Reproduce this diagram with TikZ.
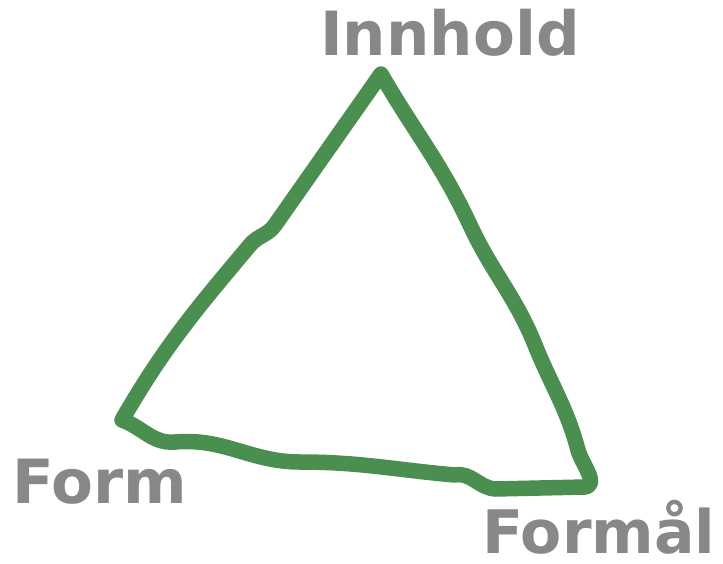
\documentclass[tikz,border=0pt]{standalone}
\usepackage{fontspec}
\setmainfont{DejaVu Sans}
\begin{document}
\begin{tikzpicture}[x=1pt,y=-1pt,
  lbl/.style={font=\fontsize{61}{61}\selectfont\bfseries, text=labelgray, inner sep=0pt, text depth=0pt, anchor=base west},
  stroke/.style={draw=trigreen, line width=15.5pt, line join=round, line cap=round}]
\definecolor{labelgray}{HTML}{888888}
\definecolor{trigreen}{HTML}{4A8F4F}
\useasboundingbox (0,0) rectangle (723,563);
\node[lbl] (innhold) at (320,55) {Innhold};
\node[lbl] (form) at (12,503) {Form};
\node[lbl, font=\fontsize{60}{60}\selectfont\bfseries] (formal) at (482,553) {Formål};
\coordinate (top) at (381,74);
\coordinate (bl) at (122,420);
\coordinate (br) at (585,487);
\draw[stroke] (top) to[out=-60,in=115] (470,225)
  to[out=-65,in=112] (535,345)
  to[out=-68,in=105] (578,450)
  to[out=-75,in=10] (br)
  -- (495,489)
  to[out=175,in=10] (455,475)
  to[out=175,in=0] (300,462)
  to[out=180,in=5] (175,442)
  to[out=185,in=-20] (bl)
  to[out=60,in=-130] (250,245)
  to[out=50,in=-125] (275,225)
  to[out=55,in=-125] cycle;
\end{tikzpicture}
\end{document}
